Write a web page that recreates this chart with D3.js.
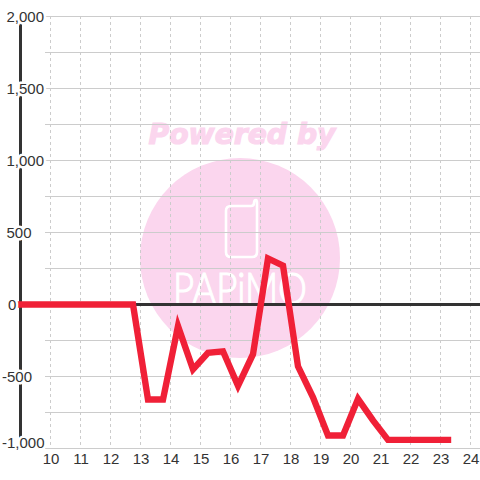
<!DOCTYPE html>
<html><head><meta charset="utf-8">
<script src="https://cdnjs.cloudflare.com/ajax/libs/d3/7.8.5/d3.min.js"></script>
<style>html,body{margin:0;padding:0;background:#fff}svg{display:block}text{font-family:"Liberation Sans",sans-serif}</style>
</head><body><svg id="c" width="480" height="480"></svg>
<script>
const hours=[9,9.25,9.75,10.25,10.75,11.25,11.75,12.25,12.75,13.25,13.75,14.25,14.75,15.25,15.75,16.25,16.75,17.25,17.75,18.25,18.75,19.25,19.75,20.25,20.75,21.25,21.75,22.25,22.75,23.25];
const values=[0,0,0,0,0,0,0,0,0,-660,-660,-150,-450,-335,-325,-565,-345,320,270,-430,-645,-910,-910,-655,-805,-940,-940,-940,-940,-940];
const xTicks=[10,11,12,13,14,15,16,17,18,19,20,21,22,23,24];
const yMajor=[2000,1500,1000,500,0,-500,-1000];
const yGrid=[2000,1750,1500,1250,1000,750,500,250,0,-250,-500,-750,-1000];
const watermarkTop="Powered by", watermarkBrand="PAPiMO";

const svg=d3.select("#c");
const x=d3.scaleLinear().domain([10,24]).range([50.5,470.5]);
const y=d3.scaleLinear().domain([2000,-1000]).range([16.5,448.5]);
const pink="#fbd6ee", ink="#333333", grid="#cccccc";

// watermark
const wm=svg.append("g");
wm.append("text").text(watermarkTop).attr("x",242).attr("y",144)
  .attr("text-anchor","middle").attr("textLength",187).attr("lengthAdjust","spacingAndGlyphs")
  .style("font-family","'DejaVu Sans'").style("font-weight","bold").style("font-style","italic")
  .style("font-size","29px").attr("fill",pink).attr("stroke",pink).attr("stroke-width",1.2);
wm.append("circle").attr("cx",240).attr("cy",258).attr("r",100).attr("fill",pink);
wm.append("path").attr("d","M231 206 H251 Q254 206 254 203 Q254 200 256 200 Q257 200 257 203 V252 Q257 257 252 257 H231 Q226 257 226 252 V211 Q226 206 231 206 Z")
  .attr("fill","none").attr("stroke","#fff").attr("stroke-width",2.6).attr("stroke-linejoin","round");
wm.append("text").text(watermarkBrand).attr("x",173).attr("y",304)
  .attr("textLength",134).attr("lengthAdjust","spacingAndGlyphs")
  .style("font-family","Lato").style("font-weight","300").style("font-size","43px")
  .attr("fill","#fff").attr("stroke","#fff").attr("stroke-width",1.2);

// grid
svg.append("g").selectAll("line").data(xTicks).join("line")
  .attr("x1",d=>x(d)).attr("x2",d=>x(d)).attr("y1",16).attr("y2",448)
  .attr("stroke",grid).attr("stroke-dasharray","3,3");
svg.append("g").selectAll("line").data(yGrid).join("line")
  .attr("x1",45).attr("x2",480).attr("y1",d=>y(d)).attr("y2",d=>y(d))
  .attr("stroke",grid);

// axis lines
svg.append("line").attr("x1",20.5).attr("x2",20.5).attr("y1",y(2000)).attr("y2",y(-1000)).attr("stroke",ink).attr("stroke-width",3);
svg.append("line").attr("x1",19).attr("x2",480).attr("y1",y(0)).attr("y2",y(0)).attr("stroke",ink).attr("stroke-width",3);

// series
const line=d3.line().x((d,i)=>x(hours[i])).y(d=>y(d));
svg.append("path").datum(values).attr("d",line).attr("fill","none")
  .attr("stroke","#f02037").attr("stroke-width",6.4).attr("stroke-linecap","square").attr("stroke-linejoin","miter");

// tick labels
const fmt=d=>d3.format(",")(d).replace("\u2212","-");
const ya=svg.append("g")
  .call(d3.axisLeft(y).tickValues(yMajor).tickFormat(fmt).tickSize(0).tickPadding(0));
ya.select(".domain").remove();
ya.selectAll("text").style("font-family","'Liberation Sans'").style("font-size","15px").attr("fill",ink)
  .attr("text-anchor","start").attr("x",d=>d<0?2:d===0?8:6.5)
  .attr("stroke","#fff").attr("stroke-width",5).attr("paint-order","stroke").attr("stroke-linejoin","round")
  .attr("dy",d=>d===-1000?"-0.08em":"0.32em");
const xa=svg.append("g").attr("transform","translate(0,453)")
  .call(d3.axisBottom(x).tickValues(xTicks).tickFormat(d3.format("d")).tickSize(0).tickPadding(0));
xa.select(".domain").remove();
xa.selectAll("text").style("font-family","'Liberation Sans'").style("font-size","15px").attr("fill",ink).attr("dy","0.71em");
</script></body></html>
